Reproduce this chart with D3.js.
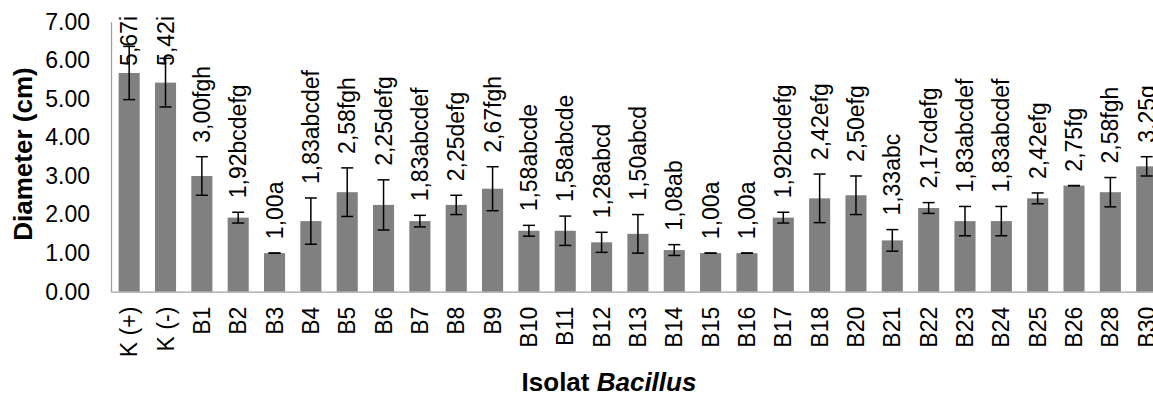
<!DOCTYPE html>
<html>
<head>
<meta charset="utf-8">
<script src="https://cdn.jsdelivr.net/npm/d3@7"></script>
<style>
    body { margin: 0; background: #fff; }
    svg { display: block; font-family: "Liberation Sans", Arial, sans-serif; }
</style>
</head>
<body>
<div id="chart"></div>
<script>
const categories = ["K (+)", "K (-)", "B1", "B2", "B3", "B4", "B5", "B6", "B7", "B8", "B9", "B10",
    "B11", "B12", "B13", "B14", "B15", "B16", "B17", "B18", "B20", "B21", "B22", "B23", "B24",
    "B25", "B26", "B28", "B30"];
const means = [5.67, 5.42, 3.00, 1.92, 1.00, 1.83, 2.58, 2.25, 1.83, 2.25, 2.67, 1.58,
    1.58, 1.28, 1.50, 1.08, 1.00, 1.00, 1.92, 2.42, 2.50, 1.33, 2.17, 1.83, 1.83,
    2.42, 2.75, 2.58, 3.25];
const errors = [0.69, 0.63, 0.50, 0.14, 0, 0.60, 0.63, 0.65, 0.15, 0.25, 0.57, 0.14,
    0.38, 0.26, 0.50, 0.14, 0, 0, 0.14, 0.63, 0.50, 0.28, 0.14, 0.38, 0.38,
    0.14, 0, 0.38, 0.25];
const letters = ["i", "i", "fgh", "bcdefg", "a", "abcdef", "fgh", "defg", "abcdef", "defg", "fgh", "abcde",
    "abcde", "abcd", "abcd", "ab", "a", "a", "bcdefg", "efg", "efg", "abc", "cdefg", "abcdef", "abcdef",
    "efg", "fg", "fgh", "g"];
const yTicks = [0, 1, 2, 3, 4, 5, 6, 7];

(function () {
    const width = 1153, height = 394;
    const margin = { left: 111, top: 21.7, bottom: 102.3 };
    const step = 36.34;
    const data = categories.map((c, i) => ({ name: c, v: means[i], e: errors[i], l: letters[i] }));

    const svg = d3.select("#chart")
        .append("svg")
        .attr("width", width)
        .attr("height", height);

    const x = d3.scaleBand()
        .domain(categories)
        .range([margin.left, margin.left + categories.length * step])
        .paddingInner(0.42)
        .paddingOuter(0.21);
    const y = d3.scaleLinear()
        .domain([0, 7])
        .range([height - margin.bottom, margin.top]);

    // bars
    svg.append("g")
        .selectAll("rect")
        .data(data)
        .join("rect")
        .attr("x", d => x(d.name))
        .attr("width", x.bandwidth())
        .attr("y", d => y(d.v))
        .attr("height", d => y(0) - y(d.v))
        .attr("fill", "#808080");

    // error bars
    const err = svg.append("g")
        .attr("stroke", "#000")
        .attr("stroke-width", 1.5)
        .selectAll("g")
        .data(data)
        .join("g")
        .attr("transform", d => `translate(${x(d.name) + x.bandwidth() / 2},0)`);
    err.append("line")
        .attr("y1", d => y(d.v + d.e))
        .attr("y2", d => y(d.v - d.e));
    err.append("line")
        .attr("x1", -6).attr("x2", 6)
        .attr("y1", d => y(d.v + d.e)).attr("y2", d => y(d.v + d.e));
    err.append("line")
        .attr("x1", -6).attr("x2", 6)
        .attr("y1", d => y(d.v - d.e)).attr("y2", d => y(d.v - d.e));

    // axes
    svg.append("g")
        .attr("transform", `translate(${margin.left},0)`)
        .call(d3.axisLeft(y).tickValues(yTicks).tickFormat(d3.format(".2f")).tickSize(0).tickPadding(21))
        .call(g => {
            g.select(".domain").attr("stroke", "#a0a0a0").attr("stroke-width", 1.3);
            g.selectAll("text").attr("font-size", 23).attr("font-family", null).attr("fill", "#000");
        });
    svg.append("g")
        .attr("transform", `translate(0,${y(0)})`)
        .call(d3.axisBottom(x).tickSize(0))
        .call(g => {
            g.select(".domain").attr("stroke", "#a0a0a0").attr("stroke-width", 1.3);
            g.selectAll("text")
                .attr("font-size", 23)
                .attr("font-family", null)
                .attr("fill", "#000")
                .attr("text-anchor", "end")
                .attr("transform", "rotate(-90)")
                .attr("x", -15)
                .attr("y", 0)
                .attr("dy", "0.35em");
        });

    // value labels
    const fmt = v => d3.format(".2f")(v).replace(".", ",");
    svg.append("g")
        .attr("font-size", 23)
        .selectAll("text")
        .data(data)
        .join("text")
        .text(d => fmt(d.v) + d.l)
        .attr("dy", "0.35em")
        .each(function (d) {
            const len = this.getComputedTextLength();
            let bottom = y(d.v + d.e) - 14;
            if (bottom - len < 16) bottom = 16 + len;
            d3.select(this).attr("transform",
                `translate(${x(d.name) + x.bandwidth() / 2},${bottom}) rotate(-90)`);
        });

    // axis titles
    svg.append("text")
        .attr("transform", "translate(32,154) rotate(-90)")
        .attr("text-anchor", "middle")
        .attr("font-size", 26)
        .attr("font-weight", "bold")
        .text("Diameter (cm)");
    const xt = svg.append("text")
        .attr("x", 609)
        .attr("y", 391)
        .attr("text-anchor", "middle")
        .attr("font-size", 26)
        .attr("font-weight", "bold");
    xt.append("tspan").text("Isolat ");
    xt.append("tspan").attr("font-style", "italic").text("Bacillus");
})();
</script>
</body>
</html>
